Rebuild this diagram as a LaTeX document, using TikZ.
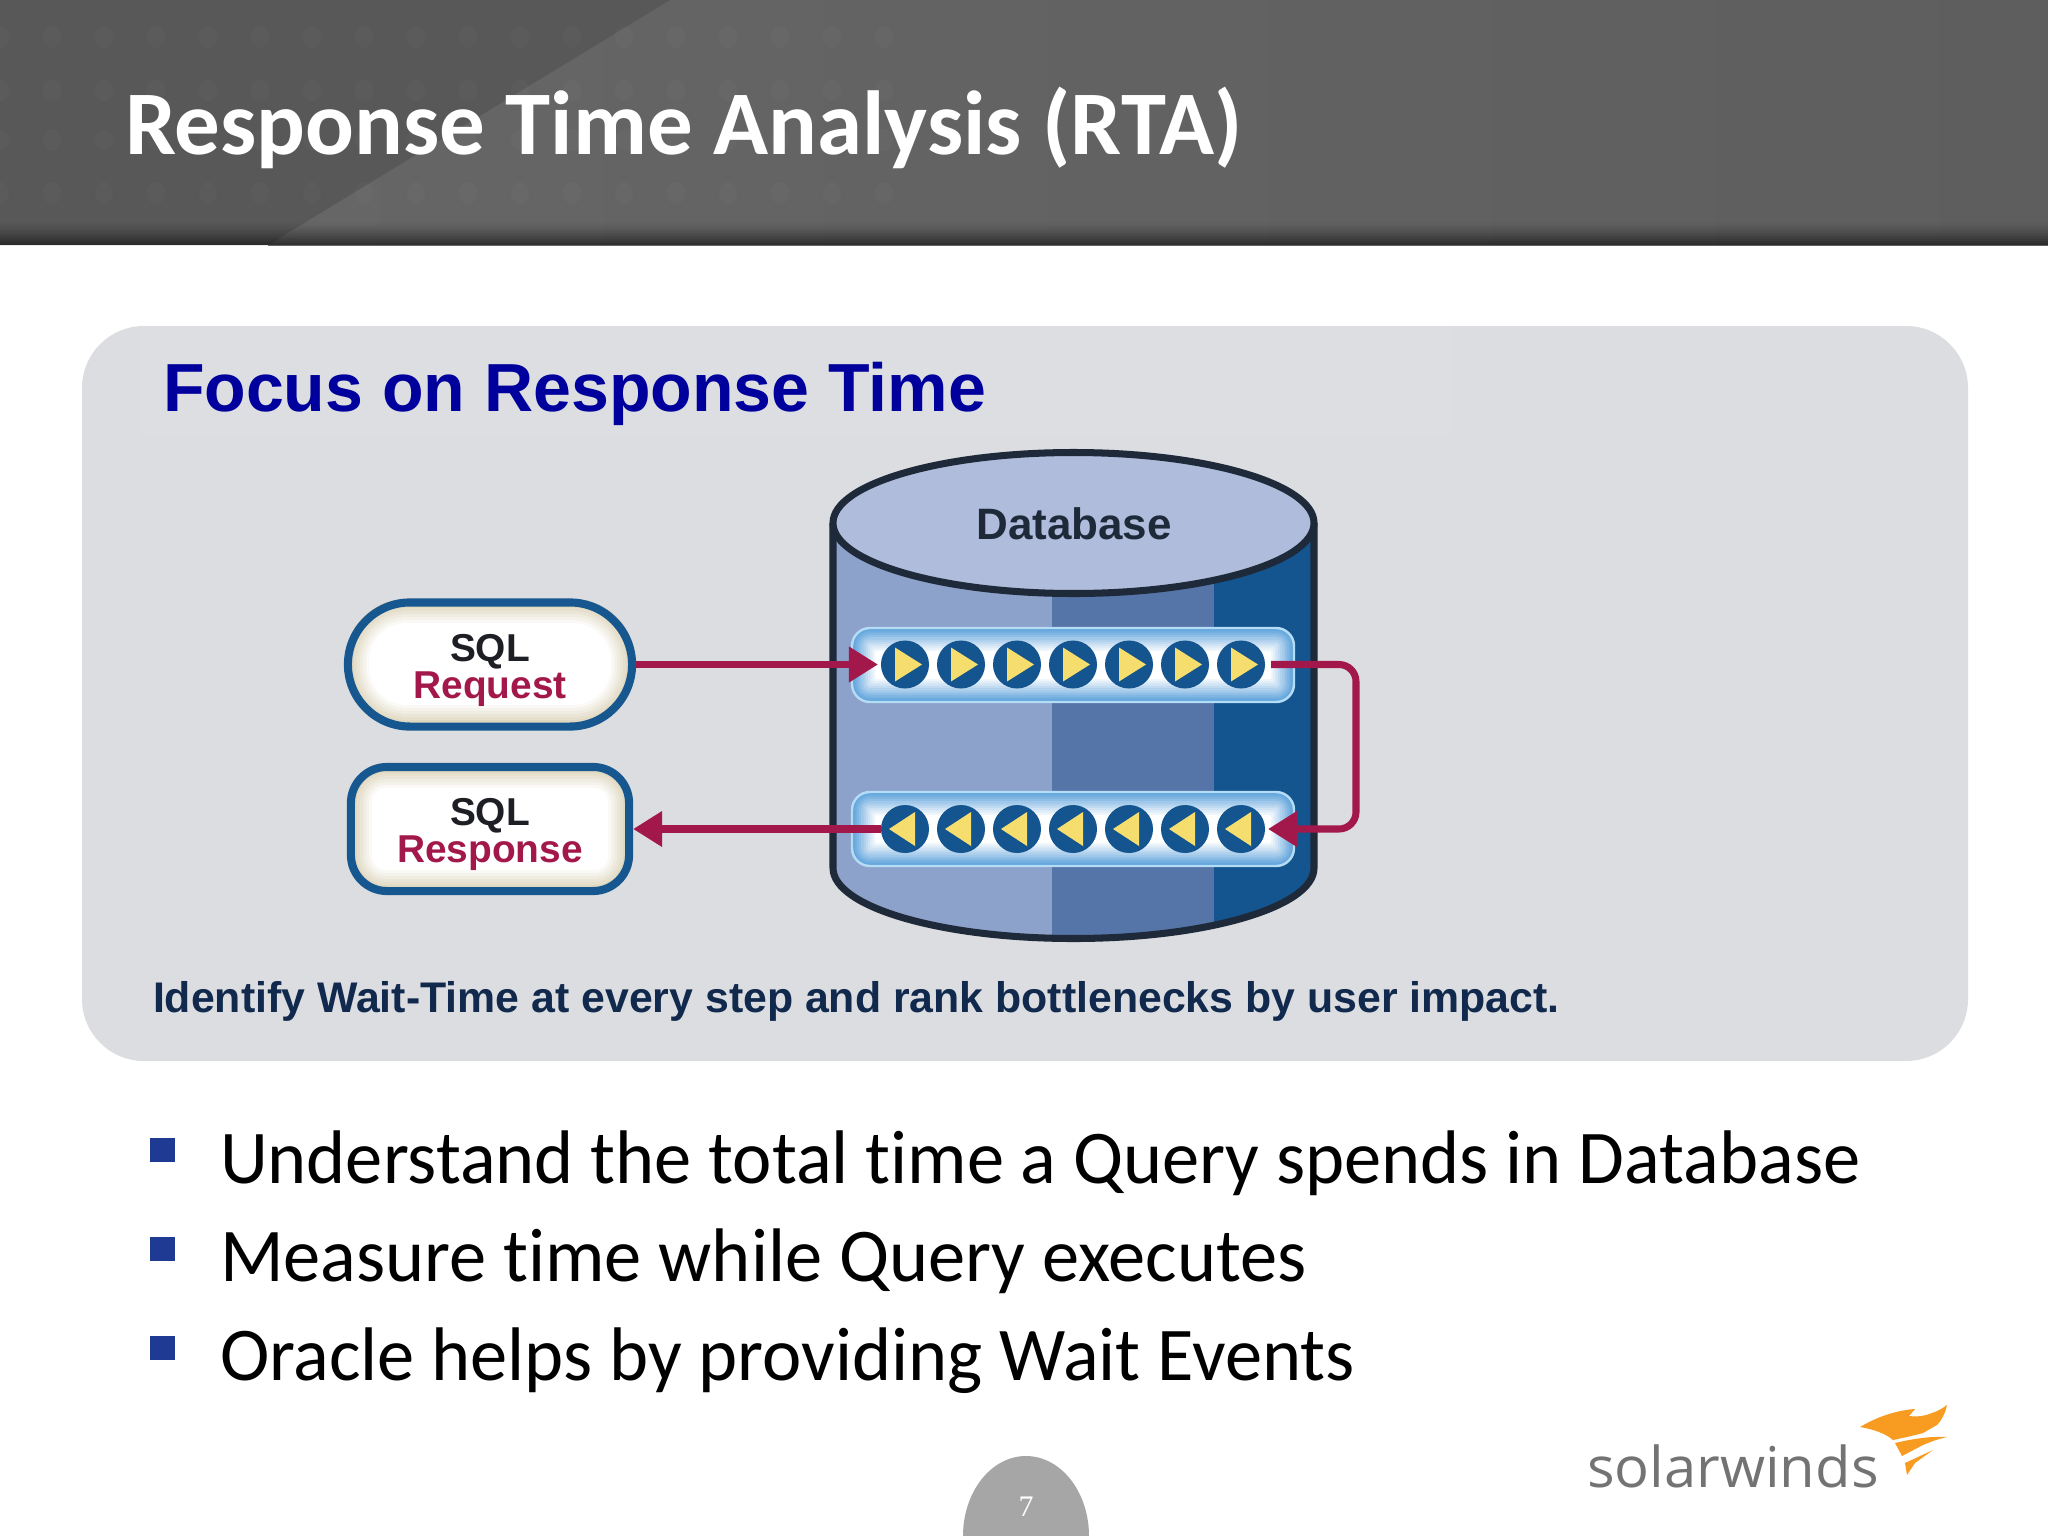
\documentclass[tikz,border=0pt]{standalone}
\usepackage{fontspec}
\usetikzlibrary{arrows.meta,shapes.misc,shapes.geometric,calc}
\setmainfont{Liberation Sans}
\newfontfamily\carlito[Ligatures=NoCommon]{Carlito}
\newfontfamily\carlitob[FakeStretch=0.98,Ligatures=NoCommon]{Carlito}
\newfontfamily\osans[FakeStretch=1.03]{Open Sans}
\newfontfamily\lserif{Liberation Serif}
\definecolor{hdr}{HTML}{5E5E5F}
\definecolor{hdrl}{HTML}{585859}
\definecolor{hdrm}{HTML}{666667}
\definecolor{panel}{HTML}{DCDDE0}
\definecolor{pillblue}{HTML}{17578F}
\definecolor{cream}{HTML}{D5CCAE}
\definecolor{crim}{HTML}{A3184A}
\definecolor{dbline}{HTML}{1E2A3A}
\definecolor{sqlc}{HTML}{1E1F24}
\definecolor{dbtop}{HTML}{AFBCDB}
\definecolor{dbl}{HTML}{8DA2CA}
\definecolor{dbm}{HTML}{5575A8}
\definecolor{dbr}{HTML}{14548F}
\definecolor{barblue}{HTML}{5FA3DC}
\definecolor{barline}{HTML}{B5DCF5}
\definecolor{yel}{HTML}{F6DE6E}
\definecolor{orng}{HTML}{F79B21}
\definecolor{bul}{HTML}{1F3A93}
\definecolor{navy}{HTML}{10294D}
\definecolor{focusc}{HTML}{00009C}
\tikzset{
  x=0.01cm,y=-0.01cm,
  txt/.style={inner sep=0pt,outer sep=0pt,anchor=base west},
  ctxt/.style={inner sep=0pt,outer sep=0pt,anchor=base},
  flow/.style={draw=crim,line width=2pt,rounded corners=0.17cm},
  flowtip/.style={-{Triangle[length=0.29cm,width=0.34cm]}},
  disc/.style={circle,fill=dbr,minimum size=0.48cm,inner sep=0pt,outer sep=0pt},
  bultext/.style={txt,font=\carlitob\fontsize{21.6}{26}\selectfont},
  sq/.style={fill=bul},
}
% glow: x1 y1 x2 y2 radius(px) colour steps stepsize(px)
\newcommand\myglow[8]{%
  \foreach \k in {0,...,#7}{%
    \pgfmathsetmacro\pc{100*\k/#7}%
    \pgfmathsetmacro\ins{\k*#8}%
    \pgfmathsetmacro\rr{max(2,#5-\ins)*0.01}%
    \fill[white!\pc!#6,rounded corners=\rr cm] (#1+\ins,#2+\ins) rectangle (#3-\ins,#4-\ins);
  }%
}
\begin{document}
\begin{tikzpicture}
\useasboundingbox (0,0) rectangle (2048,1536);
\fill[white] (0,0) rectangle (2048,1536);
% header
\fill[left color=hdrm,right color=hdr] (268,0) rectangle (2048,245);
\fill[hdrl] (670,0) -- (268,245) -- (0,245) -- (0,0) -- cycle;
\foreach \yy in {37,90,140,193}{
  \foreach \xx in {0,52,...,890}{
    \fill[white,opacity=.022] (\xx,\yy) ellipse (9 and 11);
  }
}
\foreach \k in {0,...,11}{
  \pgfmathsetmacro\op{0.0085*\k+0.005}
  \fill[black,opacity=\op] (0,221+2*\k) rectangle (2048,245);
}
\node[txt,text=white,font=\carlito\bfseries\fontsize{25.85}{30}\selectfont] (title) at (125,154) {Response Time Analysis (RTA)};
% panel
\fill[panel,rounded corners=0.62cm] (82,326) rectangle (1968,1061);
\fill[white,opacity=.04] (141,326) rectangle (1450,435);
\node[txt,font=\bfseries\fontsize{19.35}{24}\selectfont,text=focusc] (focus) at (163,411) {Focus on Response Time};
% cylinder
\begin{scope}
\clip (833,523) -- (833,868) arc[start angle=180,end angle=0,x radius=240.5,y radius=70.5] -- (1314,523) -- cycle;
\fill[dbl] (820,440) rectangle (1052,950);
\fill[dbm] (1052,440) rectangle (1214,950);
\fill[dbr] (1214,440) rectangle (1330,950);
\end{scope}
\draw[dbline,line width=2pt] (833,523) -- (833,868) arc[start angle=180,end angle=0,x radius=240.5,y radius=70.5] -- (1314,523);
\draw[dbline,line width=2pt,fill=dbtop] (1073.5,523) ellipse (240.5 and 70.5);
\node[ctxt,text=dbline,font=\bfseries\fontsize{12.5}{14}\selectfont] (dblabel) at (1074,539) {Database};
% bars
\foreach \yy/\nm in {628/a,792/b}{
  \myglow{852}{\yy}{1294}{\yy+74}{18}{barblue}{10}{2.3}
  \draw[barline,line width=0.7pt,rounded corners=0.18cm] (852,\yy) rectangle (1294,\yy+74);
}
\foreach \i/\xx in {1/905,2/961,3/1017,4/1073,5/1129,6/1185,7/1241}{
  \node[disc] (ra\i) at (\xx,664.5) {};
  \fill[yel] (\xx-10,647.5) -- (\xx+17,664.5) -- (\xx-10,681.5) -- cycle;
  \node[disc] (lb\i) at (\xx,829) {};
  \fill[yel] (\xx+10,812) -- (\xx-16,829) -- (\xx+10,846) -- cycle;
}
% pills
\myglow{345}{599}{635}{729}{62}{cream}{8}{3}
\node[draw=pillblue,line width=2.3pt,rounded rectangle,minimum width=2.84cm,minimum height=1.24cm,inner sep=0pt] (req) at (490,664.5) {};
\myglow{348}{764}{632}{894}{38}{cream}{8}{3}
\node[draw=pillblue,line width=2.3pt,rounded corners=0.36cm,rectangle,minimum width=2.78cm,minimum height=1.24cm,inner sep=0pt] (resp) at (490,829) {};
\node[ctxt,text=sqlc,font=\bfseries\fontsize{11.05}{13}\selectfont] (t1) at (490,661) {SQL};
\node[ctxt,text=crim,font=\bfseries\fontsize{11.05}{13}\selectfont] (t2) at (490,698) {Request};
\node[ctxt,text=sqlc,font=\bfseries\fontsize{11.05}{13}\selectfont] (t3) at (490,825) {SQL};
\node[ctxt,text=crim,font=\bfseries\fontsize{11.05}{13}\selectfont] (t4) at (490,862) {Response};
% connectors
\draw[flow,flowtip,shorten >=0.03cm] (req.east) -- (ra1.west);
\draw[flow,flowtip] (lb1.west) -- (resp.east);
\coordinate (cr1) at (1356,664.5);
\coordinate (cr2) at (1356,829);
\draw[flow,flowtip,shorten <=0.06cm,shorten >=0.03cm] (ra7.east) -- (cr1) -- (cr2) -- (lb7.east);
% bottom line
\node[txt,text=navy,font=\bfseries\fontsize{12.18}{14}\selectfont] (id) at (153,1012) {Identify Wait-Time at every step and rank bottlenecks by user impact.};
% bullets
\fill[sq] (150,1138) rectangle (175,1162);
\fill[sq] (150,1237) rectangle (175,1261);
\fill[sq] (150,1336) rectangle (175,1360);
\node[bultext] (b1) at (220,1183) {Understand the total time a Query spends in Database};
\node[bultext] (b2) at (220,1281) {Measure time while Query executes};
\node[bultext] (b3) at (220,1380) {Oracle helps by providing Wait Events};
% page number
\fill[black!35] (963,1536) arc[start angle=180,end angle=360,x radius=63,y radius=80] -- cycle;
\node[ctxt,text=white,font=\lserif\fontsize{8.5}{10}\selectfont] (pg) at (1026,1516) {7};
% logo
\node[txt,text=black!55,font=\osans\fontsize{16}{19}\selectfont] (sw) at (1587,1487) {solarwinds};
\fill[orng] (1860,1427) .. controls (1880,1415) and (1900,1410) .. (1915,1409) -- (1909,1416) .. controls (1918,1417) and (1925,1416) .. (1932,1413) .. controls (1938,1411) and (1943,1408) .. (1947,1405) .. controls (1945,1415) and (1940,1422) .. (1937,1425) -- (1923,1433) .. controls (1912,1436) and (1902,1438) .. (1893,1440) .. controls (1885,1433) and (1872,1429) .. (1860,1427) -- cycle;
\fill[orng] (1895,1443) .. controls (1912,1439) and (1930,1436) .. (1947,1437) .. controls (1938,1439) and (1930,1442) .. (1923,1445) -- (1902,1456) -- cycle;
\fill[orng] (1905,1463) -- (1933,1450) -- (1915,1463) -- (1907,1475) -- cycle;
\end{tikzpicture}
\end{document}
